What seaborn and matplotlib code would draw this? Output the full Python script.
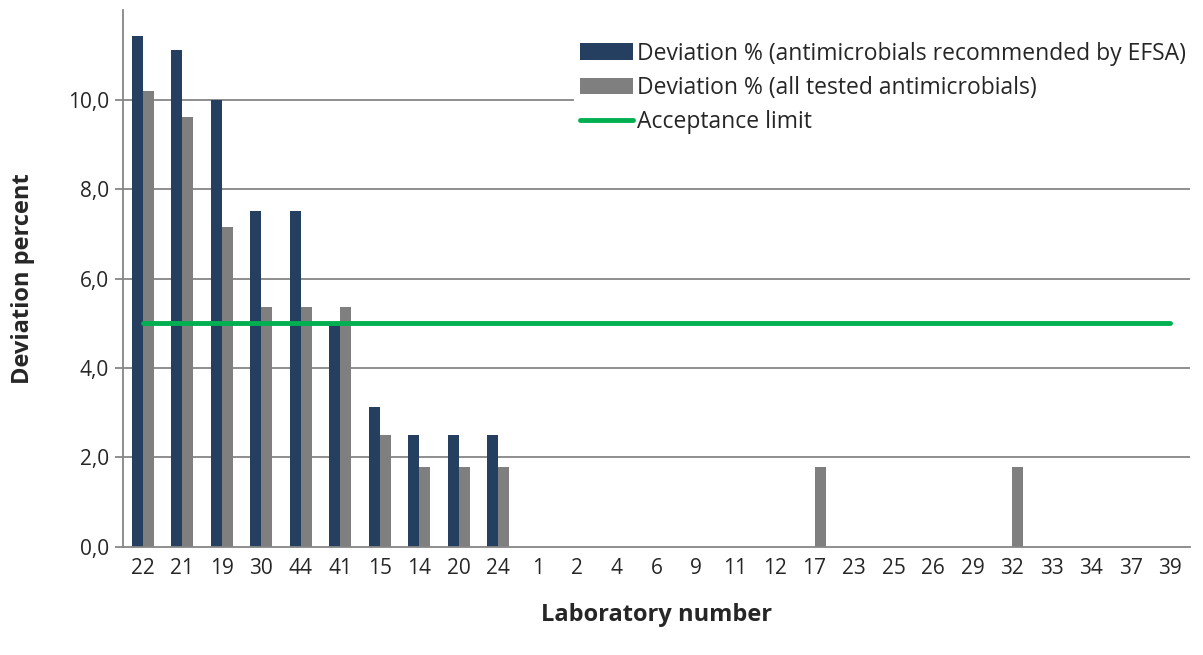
import pandas as pd
import matplotlib.pyplot as plt
import seaborn as sns
from matplotlib.ticker import FuncFormatter

sns.set_style('white')
plt.rcParams['font.family'] = ['Open Sans', 'DejaVu Sans']

# Data
labs = ['22', '21', '19', '30', '44', '41', '15', '14', '20', '24', '1', '2', '4', '6',
        '9', '11', '12', '17', '23', '25', '26', '29', '32', '33', '34', '37', '39']
efsa = [11.43, 11.11, 10.0, 7.5, 7.5, 5.0, 3.13, 2.5, 2.5, 2.5, 0, 0, 0, 0,
        0, 0, 0, 0, 0, 0, 0, 0, 0, 0, 0, 0, 0]
all_tested = [10.2, 9.6, 7.14, 5.36, 5.36, 5.36, 2.5, 1.79, 1.79, 1.79, 0, 0, 0, 0,
              0, 0, 0, 1.79, 0, 0, 0, 0, 1.79, 0, 0, 0, 0]
limit = [5.0] * len(labs)

s1 = 'Deviation % (antimicrobials recommended by EFSA)'
s2 = 'Deviation % (all tested antimicrobials)'
df = pd.concat([
    pd.DataFrame({'lab': labs, 'val': efsa, 'series': s1}),
    pd.DataFrame({'lab': labs, 'val': all_tested, 'series': s2}),
])

fig = plt.figure(figsize=(12.03, 6.55), dpi=100)
ax = fig.add_axes([0.1022, 0.1649, 0.8870, 0.8198])

grid_col = '#868686'
for yv in [2, 4, 6, 8, 10]:
    ax.axhline(yv, color=grid_col, lw=1.3, zorder=0)

sns.barplot(data=df, x='lab', y='val', hue='series', order=labs,
            palette={s1: '#253F60', s2: '#7F7F7F'}, width=0.56, gap=0,
            saturation=1, linewidth=0, ax=ax, zorder=2)
ax.plot(labs, limit, color='#00B050', lw=3.5, zorder=3, label='Acceptance limit')

ax.set_ylim(0, 12)
ax.set_xlim(-0.5, len(labs) - 0.5)
ax.set_yticks([0, 2, 4, 6, 8, 10])
ax.yaxis.set_major_formatter(FuncFormatter(lambda v, p: f'{v:.1f}'.replace('.', ',')))
ax.tick_params(axis='y', labelsize=15, length=6, color=grid_col, width=1.3, left=True, pad=4)
ax.tick_params(axis='x', labelsize=15, length=0, pad=8)

for side in ['top', 'right']:
    ax.spines[side].set_visible(False)
ax.spines['left'].set_color(grid_col)
ax.spines['left'].set_linewidth(1.3)
ax.spines['bottom'].set_color(grid_col)
ax.spines['bottom'].set_linewidth(1.3)

ax.set_xlabel('Laboratory number', fontsize=17, fontweight='bold', labelpad=17)
ax.set_ylabel('Deviation percent', fontsize=17, fontweight='bold', labelpad=24)

leg = ax.legend(loc='upper right', bbox_to_anchor=(1.013, 0.975), fontsize=16.5,
                frameon=True, facecolor='white', edgecolor='none', framealpha=1,
                handlelength=2.3, handleheight=0.75, handletextpad=0.15, labelspacing=0.45,
                borderpad=0.3)
leg.set_zorder(5)

plt.savefig('out.png', dpi=100)
